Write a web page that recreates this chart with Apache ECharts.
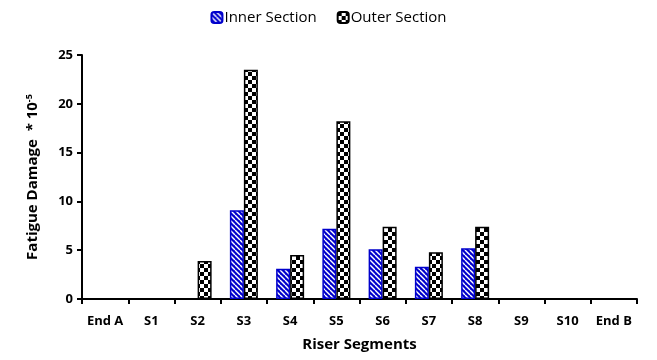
<!DOCTYPE html>
<html><head><meta charset="utf-8">
<script src="https://cdn.jsdelivr.net/npm/echarts@6/dist/echarts.min.js"></script>
<style>html,body{margin:0;padding:0;background:#fff}#c{width:657px;height:360px}</style>
</head><body><div id="c"></div>
<script>
var categories = ['End A','S1','S2','S3','S4','S5','S6','S7','S8','S9','S10','End B'];
var innerSection = [0,0,0,9.1,3.1,7.2,5.1,3.3,5.2,0,0,0];
var outerSection = [0,0,3.9,23.5,4.5,18.2,7.4,4.8,7.4,0,0,0];
var yTicks = [0,5,10,15,20,25];

function hideZero(arr){return arr.map(function(v){return v===0?'-':v;});}
function stripeCanvas(){
  var c=document.createElement('canvas');c.width=5;c.height=5;
  var g=c.getContext('2d');
  g.fillStyle='#0000cc';g.fillRect(0,0,5,5);
  g.strokeStyle='#ffffff';g.lineWidth=1.4;
  for(var k=-5;k<=10;k+=5){g.beginPath();g.moveTo(k,0);g.lineTo(k+5,5);g.stroke();}
  return c;
}
function checkCanvas(){
  var c=document.createElement('canvas');c.width=8;c.height=8;
  var g=c.getContext('2d');
  g.fillStyle='#ffffff';g.fillRect(0,0,8,8);
  g.fillStyle='#000000';g.fillRect(0,0,4,4);g.fillRect(4,4,4,4);
  return c;
}
var chart=echarts.init(document.getElementById('c'),null,{renderer:'canvas'});
var font='"Open Sans", sans-serif';
chart.setOption({
  animation:false,
  textStyle:{fontFamily:font},
  legend:{top:5,left:'center',itemWidth:11,itemHeight:11,itemGap:20,
    textStyle:{fontSize:15,color:'#000',fontFamily:font,padding:[0,0,0,-3]},
    data:['Inner Section','Outer Section']},
  grid:{left:82,right:20,top:55,bottom:61},
  xAxis:{type:'category',data:categories,
    axisLine:{lineStyle:{color:'#000',width:2}},
    axisTick:{show:true,lineStyle:{color:'#000',width:2},length:5},
    axisLabel:{color:'#000',fontWeight:'bold',fontSize:13,margin:16,fontFamily:font,interval:0},
    name:'Riser Segments',nameLocation:'middle',nameGap:38,
    nameTextStyle:{fontWeight:'bold',fontSize:15,color:'#000',fontFamily:font}},
  yAxis:{type:'value',min:yTicks[0],max:yTicks[yTicks.length-1],interval:5,
    splitLine:{show:false},
    axisLine:{show:true,lineStyle:{color:'#000',width:2}},
    axisTick:{show:true,lineStyle:{color:'#000',width:2},length:5},
    axisLabel:{color:'#000',fontWeight:'bold',fontSize:13,margin:9,fontFamily:font},
    name:'Fatigue Damage  * 10{sup|-5}',nameLocation:'middle',nameGap:41,
    nameTextStyle:{fontWeight:'bold',fontSize:15,color:'#000',fontFamily:font,
      rich:{sup:{fontSize:9,fontWeight:'bold',verticalAlign:'top',color:'#000',padding:[0,0,7,0]}}}},
  series:[
    {name:'Inner Section',type:'bar',data:hideZero(innerSection),barWidth:14,barGap:'0%',
     itemStyle:{color:{image:stripeCanvas(),repeat:'repeat'},borderColor:'#0000cc',borderWidth:1.5}},
    {name:'Outer Section',type:'bar',data:hideZero(outerSection),barWidth:14,barGap:'0%',
     itemStyle:{color:{image:checkCanvas(),repeat:'repeat'},borderColor:'#000',borderWidth:1.5}}
  ]
});
</script></body></html>
